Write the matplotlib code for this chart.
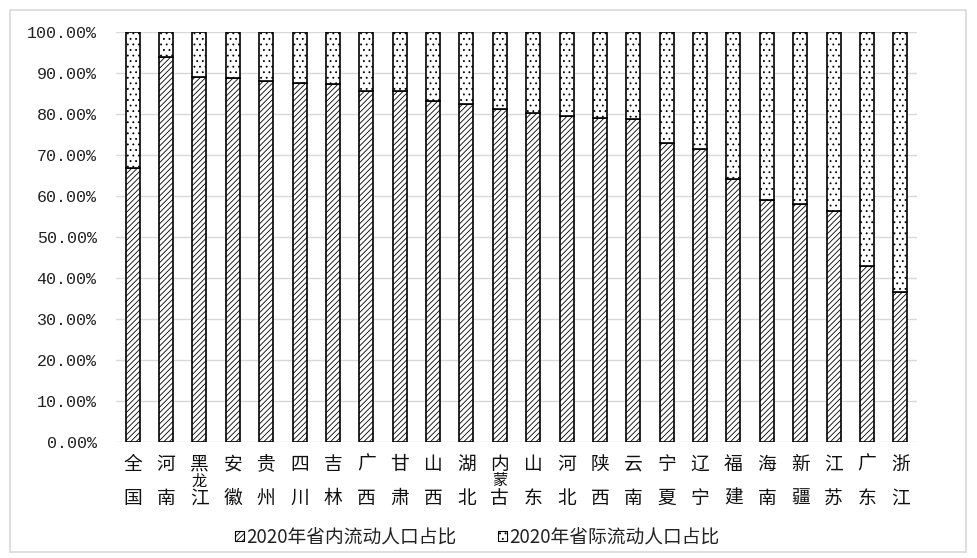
# -*- coding: utf-8 -*-
"""
2020年各省流动人口构成：省内 / 省际 占比堆叠柱状图
"""

import matplotlib
matplotlib.use("Agg")
import matplotlib.pyplot as plt
from matplotlib.patches import Patch, Rectangle
from matplotlib.ticker import FuncFormatter

# ================= 数据 =================
PROVINCES = ["全国", "河南", "黑龙江", "安徽", "贵州", "四川", "吉林", "广西",
             "甘肃", "山西", "湖北", "内蒙古", "山东", "河北", "陕西", "云南",
             "宁夏", "辽宁", "福建", "海南", "新疆", "江苏", "广东", "浙江"]
INTRA_PCT = [66.8, 93.9, 89.1, 88.7, 88.1, 87.5, 87.4, 85.6,
             85.6, 83.2, 82.4, 81.3, 80.2, 79.5, 79.1, 78.8,
             73.0, 71.4, 64.1, 59.0, 58.0, 56.3, 43.0, 36.5]
INTER_PCT = [100 - v for v in INTRA_PCT]
YTICKS = [0, 10, 20, 30, 40, 50, 60, 70, 80, 90, 100]
LEGEND_LABELS = ["2020年省内流动人口占比", "2020年省际流动人口占比"]
# ========================================

CJK = ["Noto Sans CJK SC", "DejaVu Sans"]
plt.rcParams["font.family"] = CJK
plt.rcParams["hatch.linewidth"] = 0.6

HATCH_IN = "//////"
HATCH_OUT = "..."

W, H = 977, 558
fig = plt.figure(figsize=(W / 100, H / 100), dpi=100)

# 外框
fig.patches.append(Rectangle((10 / W, 6 / H), 956 / W, 542 / H, transform=fig.transFigure,
                             fill=False, edgecolor="#d9d9d9", linewidth=1.2))

ax = fig.add_axes([116 / W, (H - 442) / H, 801 / W, 410 / H])

x = list(range(len(PROVINCES)))
bw = 0.42
ax.bar(x, INTRA_PCT, width=bw, color="white", edgecolor="black",
       linewidth=1.2, hatch=HATCH_IN, zorder=3)
ax.bar(x, INTER_PCT, width=bw, bottom=INTRA_PCT, color="white", edgecolor="black",
       linewidth=1.2, hatch=HATCH_OUT, zorder=3)

ax.set_xlim(-0.5, len(PROVINCES) - 0.5)
ax.set_ylim(0, 100)
ax.set_yticks(YTICKS)
ax.yaxis.set_major_formatter(FuncFormatter(lambda v, _: f"{v:.2f}%"))
ax.tick_params(axis="y", length=0, pad=14, labelsize=12, labelcolor="#222222")
for t in ax.get_yticklabels():
    t.set_fontfamily("Liberation Mono")
ax.set_xticks([])
ax.grid(axis="y", color="#d9d9d9", linewidth=1.0, zorder=0)
for s in ax.spines.values():
    s.set_visible(False)

# 竖排省份名：首尾两字，三字名的中间字缩小夹在中间
tr = ax.get_xaxis_transform()
for i, name in enumerate(PROVINCES):
    ax.text(i, -0.054, name[0], transform=tr, ha="center", va="center",
            fontsize=13.5, color="#111111")
    ax.text(i, -0.137, name[-1], transform=tr, ha="center", va="center",
            fontsize=13.5, color="#111111")
    if len(name) == 3:
        ax.text(i, -0.095, name[1], transform=tr, ha="center", va="center",
                fontsize=11, color="#111111")

handles = [Patch(facecolor="white", edgecolor="black", hatch=HATCH_IN, linewidth=0.8),
           Patch(facecolor="white", edgecolor="black", hatch=HATCH_OUT, linewidth=0.8)]
fig.legend(handles, LEGEND_LABELS, loc="center", bbox_to_anchor=(477 / W, 1 - 537 / H),
           ncol=2, frameon=False, fontsize=13.5, handlelength=0.5, handleheight=0.5,
           handletextpad=0.1, columnspacing=2.2, labelcolor="#222222")

fig.savefig("out.png", dpi=100)
